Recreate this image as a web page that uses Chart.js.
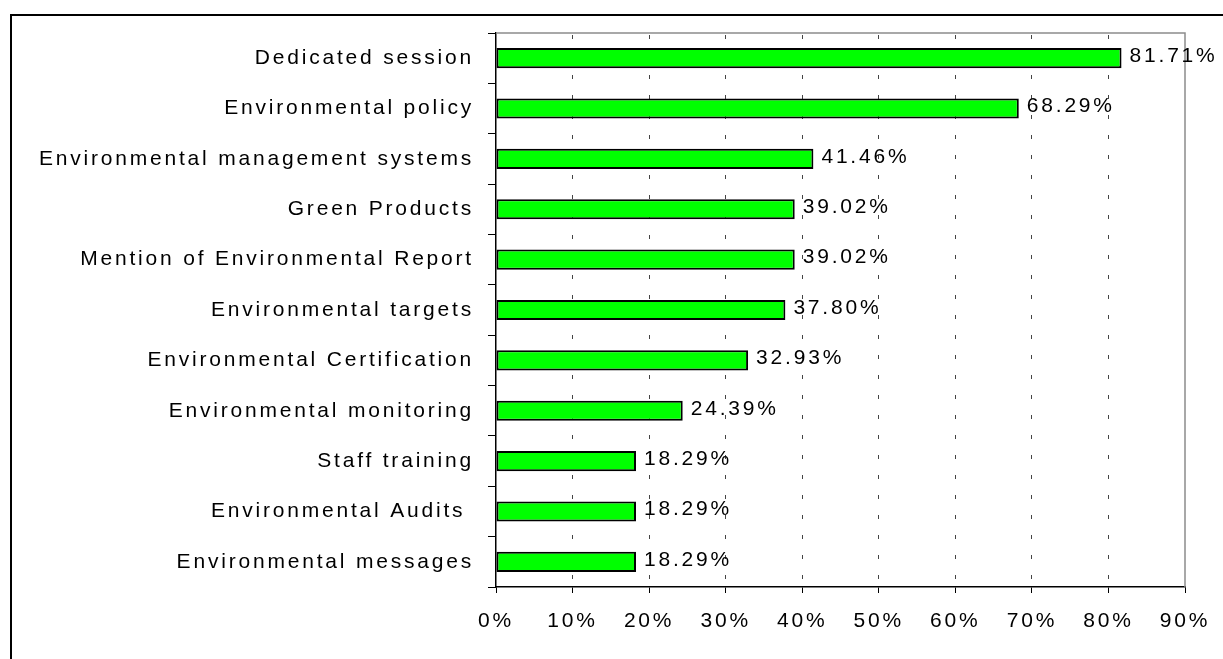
<!DOCTYPE html>
<html>
<head>
<meta charset="utf-8">
<script src="https://cdn.jsdelivr.net/npm/chart.js@4.4.0/dist/chart.umd.min.js"></script>
<style>
  html, body { margin: 0; padding: 0; background: #fff; overflow: hidden; }
  #wrap { position: relative; width: 1223px; height: 659px; }
</style>
</head>
<body>
<div id="wrap"><canvas id="chart" width="1223" height="659"></canvas></div>
<script>
// data
const categories = [
  'Dedicated session',
  'Environmental policy',
  'Environmental management systems',
  'Green Products',
  'Mention of Environmental Report',
  'Environmental targets',
  'Environmental Certification',
  'Environmental monitoring',
  'Staff training',
  'Environmental Audits ',
  'Environmental messages'
];
const shares = [81.71, 68.29, 41.46, 39.02, 39.02, 37.80, 32.93, 24.39, 18.29, 18.29, 18.29];
const xTicks = [0, 10, 20, 30, 40, 50, 60, 70, 80, 90];

const LETTER_SPACING = '2.8px';
const FONT = { family: 'Arial, "Liberation Sans", sans-serif', size: 21 };

//plugins
const spacingPlugin = {
  id: 'spacing',
  beforeUpdate(chart) { chart.ctx.letterSpacing = LETTER_SPACING; },
  beforeLayout(chart) { chart.ctx.letterSpacing = LETTER_SPACING; },
  beforeDraw(chart) {
    const ctx = chart.ctx;
    ctx.letterSpacing = LETTER_SPACING;
    // outer frame
    ctx.save();
    ctx.strokeStyle = '#000';
    ctx.lineWidth = 2;
    ctx.strokeRect(11, 15, 1400, 900);
    ctx.restore();
  }
};

const frameplugin = {
  id: 'plotFrame',
  beforeDatasetsDraw(chart) {
    const {ctx, chartArea: a} = chart;
    ctx.save();
    ctx.strokeStyle = '#8c8c8c';
    ctx.lineWidth = 1.5;
    ctx.beginPath();
    ctx.moveTo(a.left, a.top);
    ctx.lineTo(a.right, a.top);
    ctx.lineTo(a.right, a.bottom);
    ctx.stroke();
    ctx.restore();
  }
};

const valueLabels = {
  id: 'valueLabels',
  afterDatasetsDraw(chart) {
    const ctx = chart.ctx;
    const meta = chart.getDatasetMeta(0);
    ctx.save();
    ctx.letterSpacing = LETTER_SPACING;
    ctx.font = `${FONT.size}px ${FONT.family}`;
    ctx.fillStyle = '#000';
    ctx.textAlign = 'left';
    ctx.textBaseline = 'middle';
    meta.data.forEach((bar, i) => {
      ctx.fillText(shares[i].toFixed(2) + '%', bar.x + 8, bar.y - 2);
    });
    ctx.restore();
  }
};

Chart.defaults.font.family = FONT.family;
Chart.defaults.font.size = FONT.size;
Chart.defaults.color = '#000';

new Chart(document.getElementById('chart'), {
  type: 'bar',
  data: {
    labels: categories,
    datasets: [{
      data: shares,
      backgroundColor: '#00ff00',
      borderColor: '#000',
      borderWidth: 2,
      borderSkipped: false,
      categoryPercentage: 1,
      barPercentage: 0.4
    }]
  },
  options: {
    indexAxis: 'y',
    responsive: false,
    devicePixelRatio: 1,
    animation: false,
    layout: { padding: { left: 0, top: 33, right: 38, bottom: 0 } },
    plugins: {
      legend: { display: false },
      tooltip: { enabled: false }
    },
    scales: {
      x: {
        min: 0,
        max: 90,
        afterBuildTicks(scale) {
          scale.ticks = xTicks.map(v => ({ value: v }));
        },
        afterFit(scale) {
          scale.height = 72;
          scale.paddingLeft = 0;
          scale.paddingRight = 0;
        },
        ticks: {
          autoSkip: false,
          maxRotation: 0,
          padding: 16,
          callback: v => v + '%'
        },
        grid: {
          color: c => (c.tick && (c.tick.value === 0 || c.tick.value === 90)) ? 'rgba(0,0,0,0)' : '#444',
          tickColor: '#000',
          tickLength: 6,
          tickBorderDash: [],
          lineWidth: 1
        },
        border: { color: '#000', width: 1.5, dash: [4, 16], dashOffset: -2 }
      },
      y: {
        afterFit(scale) { scale.width = 496; },
        ticks: { autoSkip: false, padding: 14 },
        grid: {
          drawOnChartArea: false,
          offset: true,
          color: '#000',
          tickLength: 8,
          lineWidth: 1
        },
        border: { color: '#000', width: 1.5 }
      }
    }
  },
  plugins: [spacingPlugin, frameplugin, valueLabels]
});
</script>
</body>
</html>
